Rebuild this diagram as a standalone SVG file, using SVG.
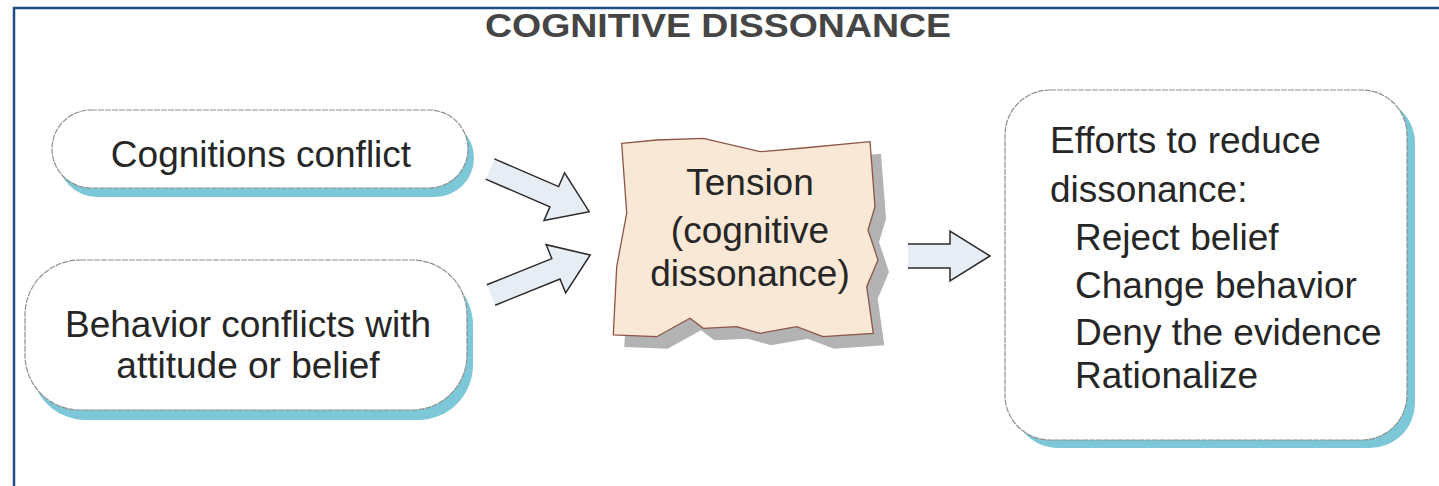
<svg xmlns="http://www.w3.org/2000/svg" width="1439" height="486" viewBox="0 0 1439 486">
<defs>
<style>
.t{font-family:"Liberation Sans",Arial,Helvetica,sans-serif;fill:#262626;font-size:37px}
.title{font-family:"Liberation Sans",Arial,Helvetica,sans-serif;font-weight:bold;fill:#454545;font-size:34px}
.box{fill:#ffffff;stroke:#8f8f8f;stroke-width:1.2;stroke-dasharray:6 1}
.shadow{fill:#7cc8d8}
.arrow{fill:#e7edf4;stroke:#2a2a2a;stroke-width:1.5;stroke-linejoin:miter}
</style>
</defs>
<rect x="0" y="0" width="1439" height="486" fill="#ffffff"/>
<path d="M14,486 V8 H1439" fill="none" stroke="#1f4e85" stroke-width="2.5"/>
<text class="title" x="718" y="37" text-anchor="middle" textLength="466" lengthAdjust="spacingAndGlyphs">COGNITIVE DISSONANCE</text>

<g id="node-cognitions">
<rect class="shadow" x="58" y="119" width="416" height="78" rx="39"/>
<rect class="box" x="52" y="110" width="416" height="78" rx="39"/>
<text class="t" x="261" y="167" text-anchor="middle">Cognitions conflict</text>
</g>

<g id="node-behavior">
<rect class="shadow" x="31" y="270" width="442" height="150" rx="55"/>
<rect class="box" x="25" y="260" width="442" height="150" rx="55"/>
<text class="t" x="248" y="337" text-anchor="middle">Behavior conflicts with</text>
<text class="t" x="248" y="378" text-anchor="middle">attitude or belief</text>
</g>

<g id="node-tension">
<path transform="translate(11,12)" fill="#b3b3b3" d="M621.7,143.3 L656.7,140 L703.3,138.3 L760,151.7 L803,148 L870,141.7 L875,206.7 L868,230 L878,260 L866.7,286.7 L873.3,333.3 L823,336.7 L796.7,326.7 L760,333.3 L736.7,326.7 L703.3,328.3 L690,318.3 L656.7,336.7 L613.3,335 L616.7,266.7 L626.7,213.3 Z"/>
<path fill="#f9e8d5" stroke="#8c5546" stroke-width="1.3" d="M621.7,143.3 L656.7,140 L703.3,138.3 L760,151.7 L803,148 L870,141.7 L875,206.7 L868,230 L878,260 L866.7,286.7 L873.3,333.3 L823,336.7 L796.7,326.7 L760,333.3 L736.7,326.7 L703.3,328.3 L690,318.3 L656.7,336.7 L613.3,335 L616.7,266.7 L626.7,213.3 Z"/>
<text class="t" x="750" y="195" text-anchor="middle" font-size="36">Tension</text>
<text class="t" x="750" y="243" text-anchor="middle" font-size="36">(cognitive</text>
<text class="t" x="750" y="286" text-anchor="middle" font-size="36">dissonance)</text>
</g>

<g id="node-efforts">
<rect class="shadow" x="1013" y="98" width="402" height="350" rx="45"/>
<rect class="box" x="1005" y="90" width="402" height="350" rx="45"/>
<text class="t" x="1050" y="153">Efforts to reduce</text>
<text class="t" x="1050" y="202">dissonance:</text>
<text class="t" x="1075" y="250">Reject belief</text>
<text class="t" x="1075" y="298">Change behavior</text>
<text class="t" x="1075" y="345">Deny the evidence</text>
<text class="t" x="1075" y="388">Rationalize</text>
</g>

<g id="connectors">
<path class="arrow" transform="translate(490,169) rotate(23.3)" d="M0,-11 L70,-11 L70,-26 L108,0 L70,26 L70,11 L0,11"/>
<path class="arrow" transform="translate(491,295) rotate(-22)" d="M0,-11 L70,-11 L70,-26 L107,0 L70,26 L70,11 L0,11"/>
<path class="arrow" transform="translate(908,256)" d="M0,-12 L42,-12 L42,-25 L82,0 L42,25 L42,12 L0,12"/>
</g>
</svg>
